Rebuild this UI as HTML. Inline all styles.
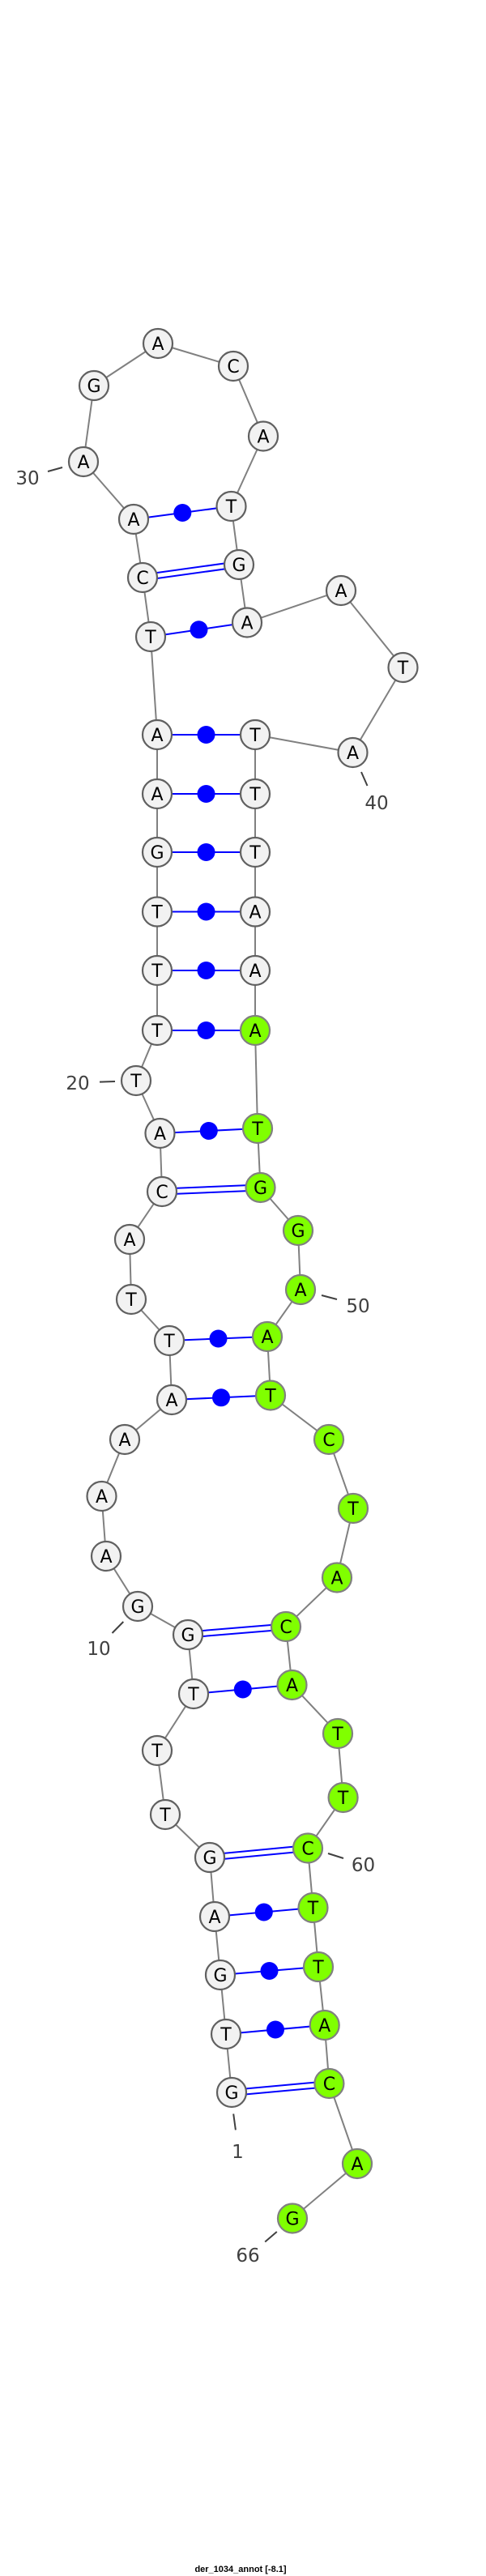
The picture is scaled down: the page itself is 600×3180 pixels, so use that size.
<!DOCTYPE html>
<html><head><meta charset="utf-8"><style>
html,body{margin:0;padding:0;background:#fff;width:600px;height:3180px;overflow:hidden}
svg{display:block}
.n{fill:#f2f2f2;stroke:#606060;stroke-width:2.2}
.g{fill:#80ff00;stroke:#808080;stroke-width:2.2}
.t{font-family:"DejaVu Sans","Liberation Sans",sans-serif;font-size:22px;text-anchor:middle;fill:#000}
.l{font-family:"DejaVu Sans","Liberation Sans",sans-serif;font-size:23px;text-anchor:middle;fill:#404040}
.bb{stroke:#808080;stroke-width:2;fill:none}
.bp{stroke:#0000ff;stroke-width:2}
.tk{stroke:#404040;stroke-width:2}
</style></head><body>
<svg width="600" height="3180" viewBox="0 0 600 3180" xmlns="http://www.w3.org/2000/svg">
<polyline class="bb" points="286,2583 279,2511 272,2438 265,2366 259,2293 204,2240 194,2161 239,2091 232,2018 170,1983 131,1921 125.5,1847 154,1777 212,1728 209,1655 162,1604 160,1530 200,1471 197.5,1399 168,1334 194,1272 194,1198 194,1125.5 194,1052 194,980 194,907 186,786 176,713 165,641 103,570 116,476 195,424 288,452 325,538.5 285.5,625 295,697 305,768.5 421,729 497.5,824 435.5,929 315,907 315,980 315,1052 315,1125.5 315,1198 315,1272 318,1393 321.5,1466 368,1519 371,1592 330,1650 334,1722.5 406,1777 436,1862 416,1947.5 353,2008 360.5,2080 417,2140 423.6,2219 380,2281.5 386.5,2355 393,2428 400.7,2500 406.4,2572 441,2671 361,2738.5"/>
<g class="bp">
<line x1="286" y1="2580" x2="406.4" y2="2569"/><line x1="286" y1="2587" x2="406.4" y2="2576"/>
<line x1="279" y1="2511" x2="400.7" y2="2500"/>
<line x1="272" y1="2438" x2="393" y2="2428"/>
<line x1="265" y1="2366" x2="386.5" y2="2355"/>
<line x1="259" y1="2289.5" x2="380" y2="2278"/><line x1="259" y1="2296.5" x2="380" y2="2285"/>
<line x1="239" y1="2091" x2="360.5" y2="2080"/>
<line x1="232" y1="2014.5" x2="353" y2="2004.5"/><line x1="232" y1="2021.5" x2="353" y2="2011.5"/>
<line x1="212" y1="1728" x2="334" y2="1722.5"/>
<line x1="209" y1="1655" x2="330" y2="1650"/>
<line x1="200" y1="1467.5" x2="321.5" y2="1462.5"/><line x1="200" y1="1474.5" x2="321.5" y2="1469.5"/>
<line x1="197.5" y1="1399" x2="318" y2="1393"/>
<line x1="194" y1="1272" x2="315" y2="1272"/>
<line x1="194" y1="1198" x2="315" y2="1198"/>
<line x1="194" y1="1125.5" x2="315" y2="1125.5"/>
<line x1="194" y1="1052" x2="315" y2="1052"/>
<line x1="194" y1="980" x2="315" y2="980"/>
<line x1="194" y1="907" x2="315" y2="907"/>
<line x1="186" y1="786" x2="305" y2="768.5"/>
<line x1="176" y1="709.5" x2="295" y2="693"/><line x1="176" y1="716.5" x2="295" y2="700"/>
<line x1="165" y1="641" x2="285.5" y2="625"/>
</g>
<g fill="#0000ff">
<circle cx="340" cy="2505.5" r="11"/><circle cx="332.5" cy="2433" r="11"/><circle cx="325.8" cy="2360.5" r="11"/>
<circle cx="299.8" cy="2085.5" r="11"/><circle cx="273" cy="1725.3" r="11"/><circle cx="269.5" cy="1652.5" r="11"/>
<circle cx="257.8" cy="1396" r="11"/><circle cx="254.5" cy="1272" r="11"/><circle cx="254.5" cy="1198" r="11"/>
<circle cx="254.5" cy="1125.5" r="11"/><circle cx="254.5" cy="1052" r="11"/><circle cx="254.5" cy="980" r="11"/>
<circle cx="254.5" cy="907" r="11"/><circle cx="245.5" cy="777.3" r="11"/><circle cx="225.3" cy="633" r="11"/>
</g>
<g>
<circle class="n" cx="286" cy="2583" r="18"/><circle class="n" cx="279" cy="2511" r="18"/><circle class="n" cx="272" cy="2438" r="18"/>
<circle class="n" cx="265" cy="2366" r="18"/><circle class="n" cx="259" cy="2293" r="18"/><circle class="n" cx="204" cy="2240" r="18"/>
<circle class="n" cx="194" cy="2161" r="18"/><circle class="n" cx="239" cy="2091" r="18"/><circle class="n" cx="232" cy="2018" r="18"/>
<circle class="n" cx="170" cy="1983" r="18"/><circle class="n" cx="131" cy="1921" r="18"/><circle class="n" cx="125.5" cy="1847" r="18"/>
<circle class="n" cx="154" cy="1777" r="18"/><circle class="n" cx="212" cy="1728" r="18"/><circle class="n" cx="209" cy="1655" r="18"/>
<circle class="n" cx="162" cy="1604" r="18"/><circle class="n" cx="160" cy="1530" r="18"/><circle class="n" cx="200" cy="1471" r="18"/>
<circle class="n" cx="197.5" cy="1399" r="18"/><circle class="n" cx="168" cy="1334" r="18"/><circle class="n" cx="194" cy="1272" r="18"/>
<circle class="n" cx="194" cy="1198" r="18"/><circle class="n" cx="194" cy="1125.5" r="18"/><circle class="n" cx="194" cy="1052" r="18"/>
<circle class="n" cx="194" cy="980" r="18"/><circle class="n" cx="194" cy="907" r="18"/><circle class="n" cx="186" cy="786" r="18"/>
<circle class="n" cx="176" cy="713" r="18"/><circle class="n" cx="165" cy="641" r="18"/><circle class="n" cx="103" cy="570" r="18"/>
<circle class="n" cx="116" cy="476" r="18"/><circle class="n" cx="195" cy="424" r="18"/><circle class="n" cx="288" cy="452" r="18"/>
<circle class="n" cx="325" cy="538.5" r="18"/><circle class="n" cx="285.5" cy="625" r="18"/><circle class="n" cx="295" cy="697" r="18"/>
<circle class="n" cx="305" cy="768.5" r="18"/><circle class="n" cx="421" cy="729" r="18"/><circle class="n" cx="497.5" cy="824" r="18"/>
<circle class="n" cx="435.5" cy="929" r="18"/><circle class="n" cx="315" cy="907" r="18"/><circle class="n" cx="315" cy="980" r="18"/>
<circle class="n" cx="315" cy="1052" r="18"/><circle class="n" cx="315" cy="1125.5" r="18"/><circle class="n" cx="315" cy="1198" r="18"/>
<circle class="g" cx="315" cy="1272" r="18"/><circle class="g" cx="318" cy="1393" r="18"/><circle class="g" cx="321.5" cy="1466" r="18"/>
<circle class="g" cx="368" cy="1519" r="18"/><circle class="g" cx="371" cy="1592" r="18"/><circle class="g" cx="330" cy="1650" r="18"/>
<circle class="g" cx="334" cy="1722.5" r="18"/><circle class="g" cx="406" cy="1777" r="18"/><circle class="g" cx="436" cy="1862" r="18"/>
<circle class="g" cx="416" cy="1947.5" r="18"/><circle class="g" cx="353" cy="2008" r="18"/><circle class="g" cx="360.5" cy="2080" r="18"/>
<circle class="g" cx="417" cy="2140" r="18"/><circle class="g" cx="423.6" cy="2219" r="18"/><circle class="g" cx="380" cy="2281.5" r="18"/>
<circle class="g" cx="386.5" cy="2355" r="18"/><circle class="g" cx="393" cy="2428" r="18"/><circle class="g" cx="400.7" cy="2500" r="18"/>
<circle class="g" cx="406.4" cy="2572" r="18"/><circle class="g" cx="441" cy="2671" r="18"/><circle class="g" cx="361" cy="2738.5" r="18"/>
</g>
<g class="t">
<text x="286" y="2591">G</text><text x="279" y="2519">T</text><text x="272" y="2446">G</text>
<text x="265" y="2374">A</text><text x="259" y="2301">G</text><text x="204" y="2248">T</text>
<text x="194" y="2169">T</text><text x="239" y="2099">T</text><text x="232" y="2026">G</text>
<text x="170" y="1991">G</text><text x="131" y="1929">A</text><text x="125.5" y="1855">A</text>
<text x="154" y="1785">A</text><text x="212" y="1736">A</text><text x="209" y="1663">T</text>
<text x="162" y="1612">T</text><text x="160" y="1538">A</text><text x="200" y="1479">C</text>
<text x="197.5" y="1407">A</text><text x="168" y="1342">T</text><text x="194" y="1280">T</text>
<text x="194" y="1206">T</text><text x="194" y="1133.5">T</text><text x="194" y="1060">G</text>
<text x="194" y="988">A</text><text x="194" y="915">A</text><text x="186" y="794">T</text>
<text x="176" y="721">C</text><text x="165" y="649">A</text><text x="103" y="578">A</text>
<text x="116" y="484">G</text><text x="195" y="432">A</text><text x="288" y="460">C</text>
<text x="325" y="546.5">A</text><text x="285.5" y="633">T</text><text x="295" y="705">G</text>
<text x="305" y="776.5">A</text><text x="421" y="737">A</text><text x="497.5" y="832">T</text>
<text x="435.5" y="937">A</text><text x="315" y="915">T</text><text x="315" y="988">T</text>
<text x="315" y="1060">T</text><text x="315" y="1133.5">A</text><text x="315" y="1206">A</text>
<text x="315" y="1280">A</text><text x="318" y="1401">T</text><text x="321.5" y="1474">G</text>
<text x="368" y="1527">G</text><text x="371" y="1600">A</text><text x="330" y="1658">A</text>
<text x="334" y="1730.5">T</text><text x="406" y="1785">C</text><text x="436" y="1870">T</text>
<text x="416" y="1955.5">A</text><text x="353" y="2016">C</text><text x="360.5" y="2088">A</text>
<text x="417" y="2148">T</text><text x="423.6" y="2227">T</text><text x="380" y="2289.5">C</text>
<text x="386.5" y="2363">T</text><text x="393" y="2436">T</text><text x="400.7" y="2508">A</text>
<text x="406.4" y="2580">C</text><text x="441" y="2679">A</text><text x="361" y="2746.5">G</text>
</g>
<g class="tk">
<line x1="59" y1="582" x2="77" y2="577"/>
<line x1="446" y1="953" x2="453.5" y2="970"/>
<line x1="123" y1="1335.6" x2="142" y2="1335"/>
<line x1="397" y1="1599" x2="416" y2="1604"/>
<line x1="138.5" y1="2016" x2="152.3" y2="2002"/>
<line x1="405" y1="2288" x2="424" y2="2294"/>
<line x1="288.2" y1="2609.5" x2="290.9" y2="2629.4"/>
<line x1="327.2" y1="2767.5" x2="341.8" y2="2755"/>
</g>
<g class="l">
<text x="34" y="598">30</text>
<text x="465" y="999">40</text>
<text x="96" y="1345">20</text>
<text x="442" y="1620">50</text>
<text x="122" y="2043">10</text>
<text x="448.5" y="2310">60</text>
<text x="293.5" y="2664">1</text>
<text x="306" y="2792">66</text>
</g>
<text x="297" y="3175" font-family="'Liberation Sans',sans-serif" font-size="11" font-weight="bold" text-anchor="middle" fill="#000">der_1034_annot [-8.1]</text>
</svg>
</body></html>
